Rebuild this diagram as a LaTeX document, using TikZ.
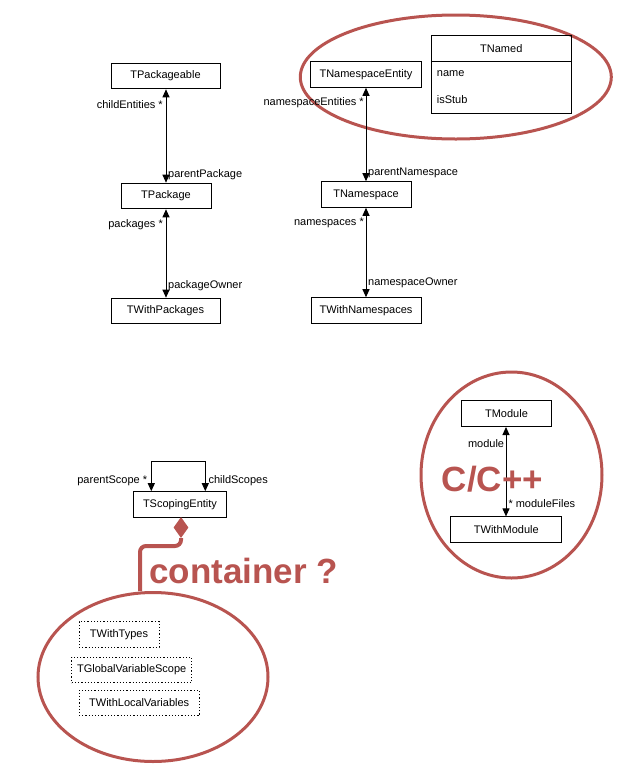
\documentclass[tikz,border=0pt]{standalone}
\usepackage{fontspec}
\setmainfont{Liberation Sans}
\usetikzlibrary{arrows.meta,shapes.geometric}
\definecolor{redc}{HTML}{B85450}
\begin{document}
\begin{tikzpicture}[x=1pt,y=-1pt,
  cls/.style={draw, line width=1pt, minimum height=25.6pt, inner sep=0pt, font=\fontsize{11}{13}\selectfont},
  dotcls/.style={cls, dash pattern=on 1.2pt off 2pt},
  lbl/.style={font=\fontsize{11}{13}\selectfont, inner sep=0pt},
  assoc/.style={line width=1pt, {Triangle[length=8pt,width=7pt]}-{Triangle[length=8pt,width=7pt]}},
  redell/.style={draw=redc, line width=3pt, ellipse, inner sep=0pt},
  bigred/.style={font=\fontsize{35}{40}\selectfont\bfseries, text=redc, inner sep=0pt}
]
\useasboundingbox (0,0) rectangle (623,772);

% ellipses (behind)
\node[redell, minimum width=311pt, minimum height=124pt] (ell1) at (455.8,77) {};
\node[redell, minimum width=181pt, minimum height=206pt] (ell2) at (511.5,475) {};
\node[redell, minimum width=230pt, minimum height=169pt] (ell3) at (153,677) {};

% left column
\node[cls, minimum width=109pt] (pkgable) at (165.5,76) {TPackageable};
\node[cls, minimum width=90pt] (pkg) at (166,196) {TPackage};
\node[cls, minimum width=109pt] (withpkg) at (165.5,311) {TWithPackages};
\draw[assoc] (pkgable.south -| pkg.north) -- (pkg.north);
\draw[assoc] (pkg.south) -- (withpkg.north -| pkg.south);
\node[lbl, anchor=east] (l1) at (163,105) {childEntities *};
\node[lbl, anchor=west] (l2) at (168,175) {parentPackage};
\node[lbl, anchor=east] (l3) at (163,225) {packages *};
\node[lbl, anchor=west] (l4) at (168,286) {packageOwner};

% middle column
\node[cls, minimum width=110.6pt] (nsent) at (366,74.5) {TNamespaceEntity};
\node[cls, minimum width=90pt] (ns) at (366,194.5) {TNamespace};
\node[cls, minimum width=110pt] (withns) at (366,310.5) {TWithNamespaces};
\draw[assoc] (nsent.south) -- (ns.north);
\draw[assoc] (ns.south) -- (withns.north);
\node[lbl, anchor=east] (l5) at (364,103) {namespaceEntities *};
\node[lbl, anchor=west] (l6) at (368,173) {parentNamespace};
\node[lbl, anchor=east] (l7) at (364,223) {namespaces *};
\node[lbl, anchor=west] (l8) at (368,283) {namespaceOwner};

% TNamed class
\node[cls, minimum width=140pt, minimum height=77.6pt] (named) at (501.3,74.5) {};
\node[lbl] (namedtitle) at (501.3,49) {TNamed};
\draw[line width=1pt] (named.west |- 0,61.3) -- (named.east |- 0,61.3);
\node[lbl, anchor=west] (attr1) at (436.7,74) {name};
\node[lbl, anchor=west] (attr2) at (436.7,100) {isStub};

% module
\node[cls, minimum width=89.6pt] (mod) at (506.5,413.7) {TModule};
\node[cls, minimum width=110.7pt] (withmod) at (506.3,529.7) {TWithModule};
\draw[assoc] (mod.south -| 506,0) -- (withmod.north -| 506,0);
\node[lbl, anchor=east] (l9) at (504.3,443.3) {module};
\node[lbl, anchor=west] (l10) at (508.3,503.3) {* moduleFiles};
\node[bigred, anchor=base west] (cpp) at (441.7,491.7) {C/C++};

% scoping entity
\node[cls, minimum width=93.4pt] (scope) at (180,504.5) {TScopingEntity};
\draw[assoc] ([xshift=-28.7pt]scope.north) -- ++(0,-30) -| ([xshift=25.3pt]scope.north);
\node[lbl, anchor=east] (l11) at (147.3,480.7) {parentScope *};
\node[lbl, anchor=west] (l12) at (208.3,480.7) {childScopes};

% container connector
\node[diamond, fill=redc, draw=none, inner sep=0pt, minimum width=15pt, minimum height=21pt] (dia) at (181,527.5) {};
\draw[redc, line width=4pt, rounded corners=6pt] (dia.south) -- (181,546) -- (140,546) -- (ell3.north -| 140,0);
\node[bigred, anchor=base west] (cont) at (149.3,583) {container ?};

% dotted classes
\node[dotcls, minimum width=80pt] (wtypes) at (119,634.5) {TWithTypes};
\node[dotcls, minimum width=120pt] (gvs) at (131.7,670) {TGlobalVariableScope};
\node[dotcls, minimum width=120.3pt] (wlv) at (139.2,703) {TWithLocalVariables};
\end{tikzpicture}
\end{document}
